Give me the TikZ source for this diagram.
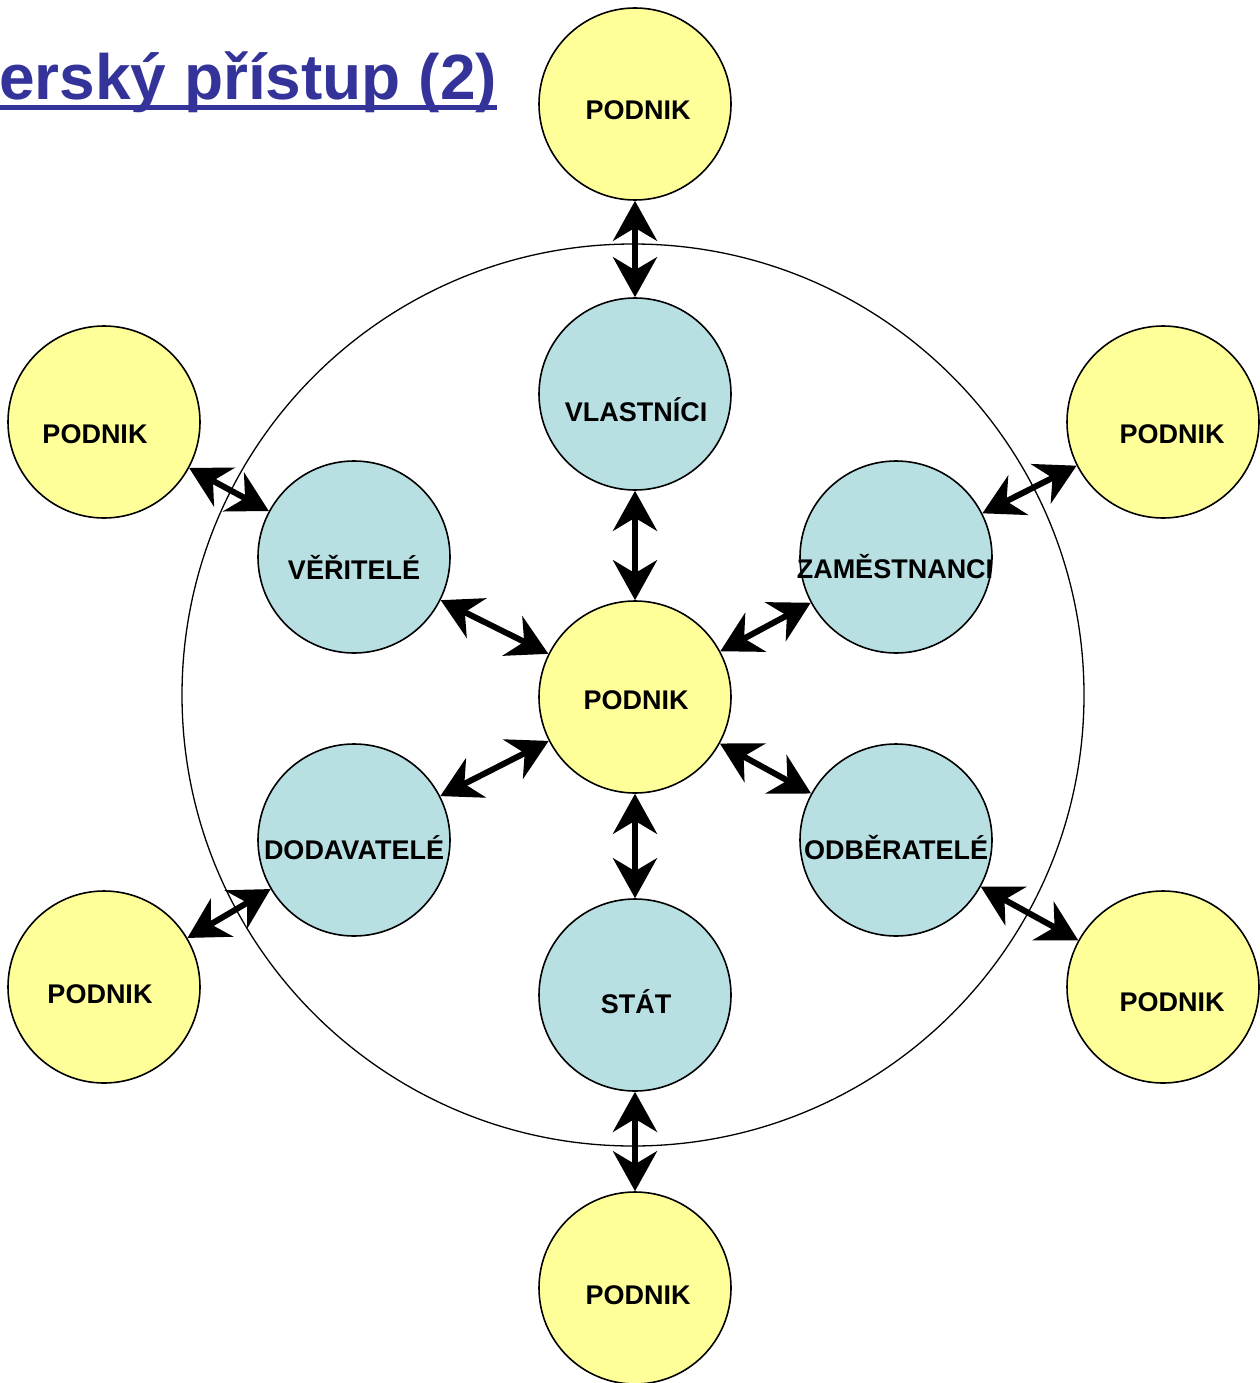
\documentclass[tikz,border=0pt]{standalone}
\usepackage{fontspec}
\setmainfont{Liberation Sans}
\usetikzlibrary{arrows.meta}
\definecolor{pyellow}{RGB}{255,255,153}
\definecolor{pblue}{RGB}{184,223,226}
\definecolor{ptitle}{RGB}{51,51,153}
\begin{document}
\begin{tikzpicture}[x=1pt,y=-1pt,
  disc/.style={circle,draw=black,line width=1.6pt,minimum size=192pt,inner sep=0pt},
  firm/.style={disc,fill=pyellow},
  party/.style={disc,fill=pblue},
  lbl/.style={font=\fontsize{27}{30}\selectfont\bfseries,inner sep=0pt,anchor=center},
  link/.style={line width=6pt,{Stealth[length=40pt,width=44pt,inset=13pt]}-{Stealth[length=40pt,width=44pt,inset=13pt]}}]
\useasboundingbox[fill=white] (0,0) rectangle (1259,1383);
% title
\node[anchor=base west,inner sep=0pt,text=ptitle,font=\fontsize{64}{70}\selectfont\bfseries] (title) at (-1,100) {erský přístup (2)};
\draw[ptitle,line width=5pt] (0,108) -- (497,108);
% big circle
\node[circle,draw=black,line width=1.3pt,minimum size=902pt,inner sep=0pt] (ring) at (633,695) {};
% nodes
\node[firm] (pc) at (635,697) {};
\node[party] (vl) at (635,394) {};
\node[party] (ve) at (354,557) {};
\node[party] (za) at (896,557) {};
\node[party] (do) at (354,840) {};
\node[party] (od) at (896,840) {};
\node[party] (st) at (635,995) {};
\node[firm] (p1) at (635,104) {};
\node[firm] (p2) at (104,422) {};
\node[firm] (p3) at (1163,422) {};
\node[firm] (p4) at (104,987) {};
\node[firm] (p5) at (1163,987) {};
\node[firm] (p6) at (635,1288) {};
% labels
\node[lbl] (tpc) at (636,700) {PODNIK};
\node[lbl] (tvl) at (636,410) {VLASTNÍCI};
\node[lbl] (tve) at (354,567) {VĚŘITELÉ};
\node[lbl] (tza) at (895,567) {ZAMĚSTNANCI};
\node[lbl] (tdo) at (354,848) {DODAVATELÉ};
\node[lbl] (tod) at (896,848) {ODBĚRATELÉ};
\node[lbl] (tst) at (636,1002) {STÁT};
\node[lbl] (tp1) at (638,110) {PODNIK};
\node[lbl] (tp2) at (95,434) {PODNIK};
\node[lbl] (tp3) at (1172,434) {PODNIK};
\node[lbl] (tp4) at (100,994) {PODNIK};
\node[lbl] (tp5) at (1172,1002) {PODNIK};
\node[lbl] (tp6) at (638,1295) {PODNIK};
% connectors
\draw[link] (p1) -- (vl);
\draw[link] (vl) -- (pc);
\draw[link] (ve) -- (pc);
\draw[link] (za) -- (pc);
\draw[link] (do) -- (pc);
\draw[link] (od) -- (pc);
\draw[link] (st) -- (pc);
\draw[link] (st) -- (p6);
\draw[link] (p2) -- (ve);
\draw[link] (p3) -- (za);
\draw[link] (p4) -- (do);
\draw[link] (p5) -- (od);
\end{tikzpicture}
\end{document}
